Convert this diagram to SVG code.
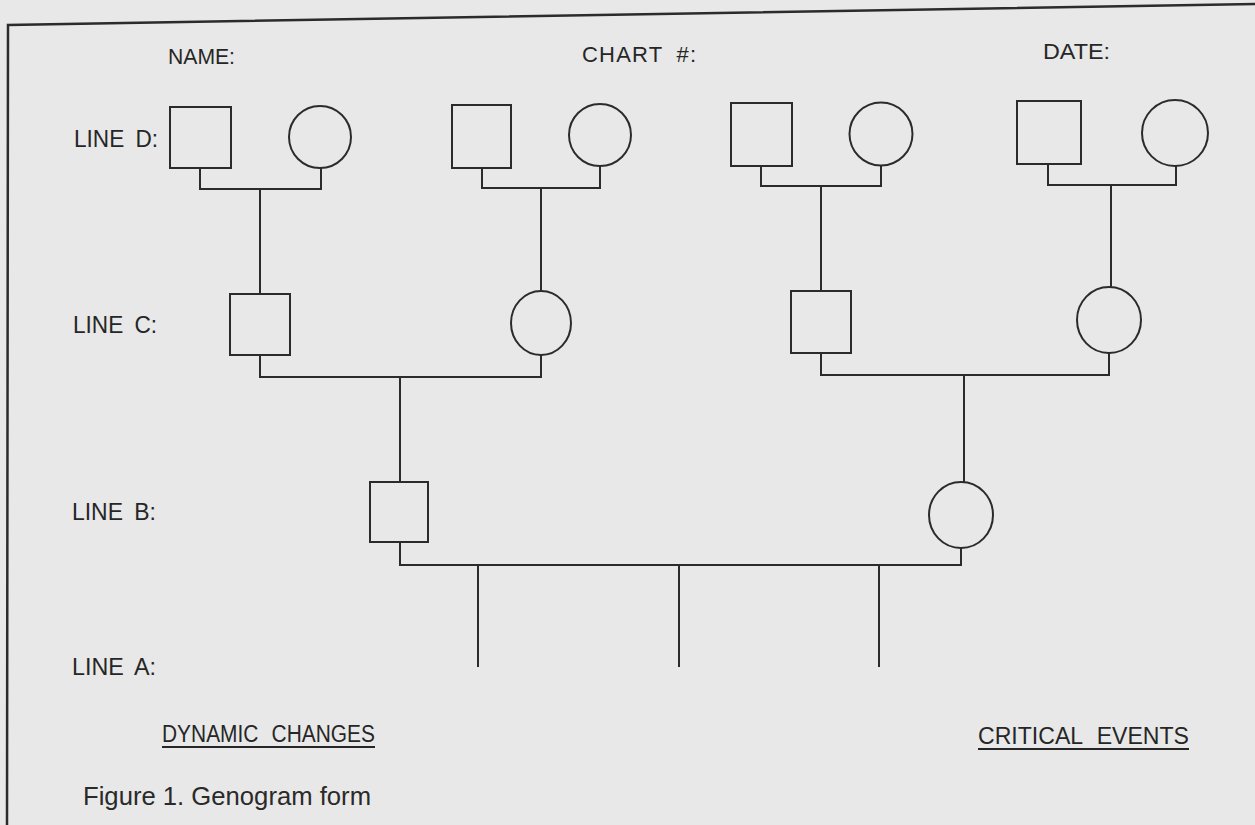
<svg xmlns="http://www.w3.org/2000/svg" width="1255" height="825" viewBox="0 0 1255 825">
<style>
.bg{fill:#e8e8e8}
.frame{fill:none;stroke:#2b2b2b;stroke-width:2.5}
.shape{fill:none;stroke:#2b2b2b;stroke-width:2}
.conn{fill:none;stroke:#2b2b2b;stroke-width:2}
.lbl{font-family:"Liberation Sans",Arial,sans-serif;fill:#262626;font-size:23px;word-spacing:5px}
.hdr{font-family:"Liberation Sans",Arial,sans-serif;fill:#262626;font-size:22px;word-spacing:6px}
.ft{font-family:"Liberation Sans",Arial,sans-serif;fill:#262626;font-size:23px;word-spacing:8px}
.cap{font-family:"Liberation Sans",Arial,sans-serif;fill:#2a2a2a;font-size:25.5px}
.ul{fill:none;stroke:#262626;stroke-width:2}
</style>
<rect class="bg" x="0" y="0" width="1255" height="825"/>
<path class="frame" d="M1255,4 L8,25 L7,825"/>

<g id="header">
<text class="hdr" x="168" y="64" textLength="67" lengthAdjust="spacingAndGlyphs">NAME:</text>
<text class="hdr" x="582" y="62" textLength="114" lengthAdjust="spacing">CHART #:</text>
<text class="hdr" x="1043" y="59" textLength="67" lengthAdjust="spacingAndGlyphs">DATE:</text>
</g>

<g id="labels">
<text class="lbl" x="74" y="147" textLength="84" lengthAdjust="spacingAndGlyphs">LINE D:</text>
<text class="lbl" x="73" y="333" textLength="84" lengthAdjust="spacingAndGlyphs">LINE C:</text>
<text class="lbl" x="72" y="520" textLength="84" lengthAdjust="spacingAndGlyphs">LINE B:</text>
<text class="lbl" x="72" y="675" textLength="84" lengthAdjust="spacingAndGlyphs">LINE A:</text>
</g>

<g id="connectors">
<path class="conn" d="M200,168 V189 H321 V168 M260,189 V294"/>
<path class="conn" d="M482,168 V188 H600 V166 M541,188 V291"/>
<path class="conn" d="M761,166 V186 H881 V165 M821,186 V291"/>
<path class="conn" d="M1048,164 V185 H1176 V166 M1111,185 V287"/>
<path class="conn" d="M260,355 V377 H541 V355 M400,377 V482"/>
<path class="conn" d="M821,353 V375 H1109 V353 M964,375 V482"/>
<path class="conn" d="M400,542 V565 H961 V548 M478,565 V667 M679,565 V667 M879,565 V667"/>
</g>

<g id="D1-male"><rect class="shape" x="170" y="107" width="61" height="61"/></g>
<g id="D1-female"><circle class="shape" cx="320" cy="137" r="31"/></g>
<g id="D2-male"><rect class="shape" x="452" y="105" width="59" height="63"/></g>
<g id="D2-female"><circle class="shape" cx="600" cy="135" r="31"/></g>
<g id="D3-male"><rect class="shape" x="731" y="103" width="61" height="63"/></g>
<g id="D3-female"><circle class="shape" cx="881" cy="134" r="31.5"/></g>
<g id="D4-male"><rect class="shape" x="1017" y="101" width="64" height="63"/></g>
<g id="D4-female"><circle class="shape" cx="1175" cy="133" r="33"/></g>

<g id="C1-male"><rect class="shape" x="230" y="294" width="60" height="61"/></g>
<g id="C2-female"><ellipse class="shape" cx="541" cy="323" rx="30" ry="32"/></g>
<g id="C3-male"><rect class="shape" x="791" y="291" width="60" height="62"/></g>
<g id="C4-female"><ellipse class="shape" cx="1109" cy="320" rx="32" ry="33"/></g>

<g id="B1-male"><rect class="shape" x="370" y="482" width="58" height="60"/></g>
<g id="B2-female"><ellipse class="shape" cx="961" cy="515" rx="32" ry="33"/></g>

<g id="footer">
<text class="ft" x="162" y="742" textLength="213" lengthAdjust="spacingAndGlyphs">DYNAMIC CHANGES</text>
<line class="ul" x1="162" y1="747" x2="375" y2="747"/>
<text class="ft" x="978" y="744" textLength="211" lengthAdjust="spacingAndGlyphs">CRITICAL EVENTS</text>
<line class="ul" x1="978" y1="749" x2="1189" y2="749"/>
<text class="cap" x="83" y="805" textLength="288" lengthAdjust="spacingAndGlyphs">Figure 1. Genogram form</text>
</g>
</svg>
